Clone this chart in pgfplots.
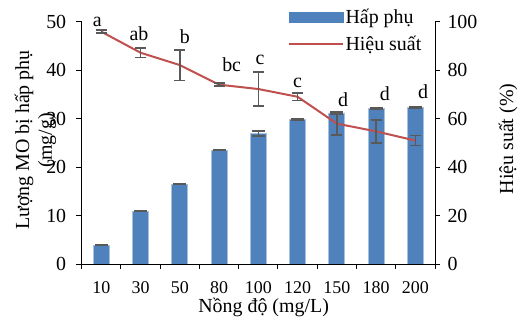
\documentclass[border=0pt]{standalone}
\usepackage{fontspec}
\setmainfont{Liberation Serif}
\usepackage{pgfplots}
\usepackage{pgfplotstable}
\pgfplotsset{compat=1.18}
\definecolor{barblue}{HTML}{4F81BD}
\definecolor{baredge}{HTML}{A7C0DE}
\definecolor{linered}{HTML}{C0504D}
\definecolor{errgray}{HTML}{595959}

\pgfplotstableread{
x y e
0 3.9 0.12
1 10.95 0.12
2 16.5 0.12
3 23.55 0.12
4 26.95 0.5
5 29.9 0.12
6 31.2 0.2
7 32.1 0.12
8 32.4 0.12
}\adsdata

\pgfplotstableread{
x y e
0 96.0 0.6
1 87.3 2.0
2 82.2 6.3
3 74.1 0.6
4 72.3 7.1
5 69.1 1.5
6 58.0 4.75
7 54.8 4.7
8 51.0 2.0
}\effdata

\begin{document}
\begin{tikzpicture}[font=\fontsize{20}{23}\selectfont]
\begin{axis}[
  name=ax,
  scale only axis,
  width=353.3bp, height=242bp,
  xmin=-0.5, xmax=8.5,
  ymin=0, ymax=50,
  axis x line=bottom, axis y line=left,
  axis line style={line width=1bp, -},
  xtick={0,...,8},
  xticklabels={10,30,50,80,100,120,150,180,200},
  minor xtick={-0.5,0.5,...,8.5},
  major x tick style={draw=none},
  minor x tick style={line width=1bp, black},
  minor tick length=5bp,
  major tick length=6bp,
  tick align=outside,
  ytick={0,10,...,50},
  y tick style={line width=1bp, black},
  /pgf/number format/assume math mode=true,
  xticklabel style={font=\fontsize{18}{20}\selectfont, yshift=-8bp},
  yticklabel style={font=\fontsize{20}{23}\selectfont, xshift=-6bp},
  xlabel={Nồng độ (mg/L)},
  xlabel style={at={(axis description cs:0.515,-0.18)}, anchor=center},
  ylabel={Lượng MO bị hấp phụ\\(mg/g)},
  ylabel style={at={(axis description cs:-0.131,0.512)}, anchor=center, align=center, font=\fontsize{20}{23}\selectfont},
]
\addplot[ybar, bar width=16bp, fill=barblue, draw=baredge, line width=0.75bp,
  error bars/.cd, y dir=both, y explicit,
  error bar style={line width=1.5bp, errgray},
  error mark options={rotate=90, mark size=6.5bp, line width=1.5bp, errgray}]
  table[x=x, y=y, y error=e] {\adsdata};
\end{axis}
\begin{axis}[
  scale only axis,
  width=353.3bp, height=242bp,
  xmin=-0.5, xmax=8.5,
  ymin=0, ymax=100,
  axis x line=none, axis y line*=right,
  axis line style={line width=1bp, -},
  ytick={0,20,...,100},
  y tick style={line width=1bp, black},
  major tick length=5bp,
  tick align=outside,
  clip=false,
  /pgf/number format/assume math mode=true,
  yticklabel style={font=\fontsize{20}{23}\selectfont, xshift=4bp},
  ylabel={Hiệu suất (\%)},
  ylabel style={at={(axis description cs:1.2066,0.5165)}, anchor=center},
  legend style={draw=none, fill=none, at={(axis description cs:0.575,1.07)}, anchor=north west,
    legend cell align=left, row sep=8bp, font=\fontsize{20}{23}\selectfont,
    nodes={inner sep=1.5bp}},
]
\addlegendimage{legend image code/.code={\fill[barblue] (0bp,-5bp) rectangle (54bp,5bp);}}
\addlegendentry{Hấp phụ}
\addplot[linered, line width=2bp, mark=none,
  legend image code/.code={\draw[linered, line width=2bp] (0bp,0bp) -- (54bp,0bp);},
  error bars/.cd, y dir=both, y explicit,
  error bar style={line width=1.5bp, errgray},
  error mark options={rotate=90, mark size=5.5bp, line width=1.5bp, errgray}]
  table[x=x, y=y, y error=e] {\effdata};
\addlegendentry{Hiệu suất}
\node[anchor=base] at (axis cs:-0.1,98.1) {a};
\node[anchor=base] at (axis cs:0.96,92.3) {ab};
\node[anchor=base] at (axis cs:2.13,91.2) {b};
\node[anchor=base] at (axis cs:3.32,79.5) {bc};
\node[anchor=base] at (axis cs:4.04,82.5) {c};
\node[anchor=base] at (axis cs:5.0,73.0) {c};
\node[anchor=base] at (axis cs:6.16,65.0) {d};
\node[anchor=base] at (axis cs:7.22,67.4) {d};
\node[anchor=base] at (axis cs:8.2,68.5) {d};
\end{axis}
\pgfresetboundingbox
\path[use as bounding box] (ax.south west) ++(-81.7bp,-62bp) rectangle ++(518bp,326bp);
\end{tikzpicture}
\end{document}
